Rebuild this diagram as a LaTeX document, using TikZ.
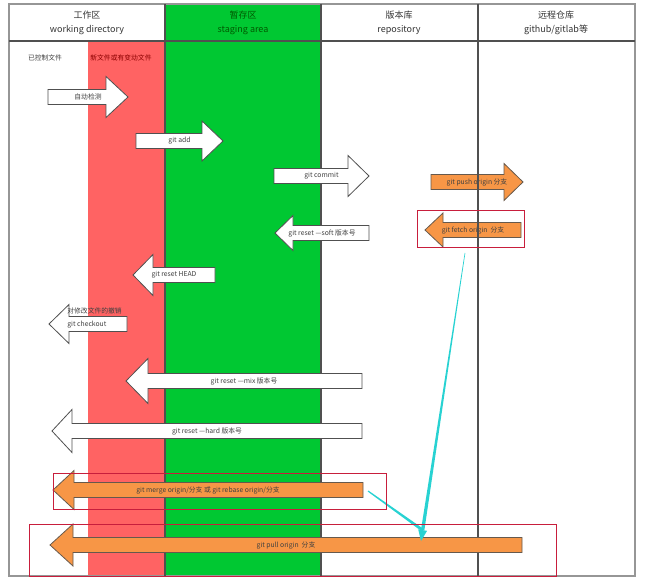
\documentclass[tikz,border=0pt]{standalone}
\usepackage{fontspec}
\setmainfont{Noto Sans CJK SC}
\usetikzlibrary{arrows.meta,calc,positioning}
\tikzset{every picture/.style={line width=0.75pt}}

\definecolor{workred}{RGB}{255,99,99}
\definecolor{stagegreen}{RGB}{0,200,50}
\definecolor{pushorange}{RGB}{247,150,70}
\definecolor{gridgray}{RGB}{80,80,80}
\definecolor{framegray}{RGB}{150,150,150}
\definecolor{boxred}{RGB}{200,30,60}
\definecolor{flowcyan}{RGB}{40,210,210}

\tikzset{
  arrowbox/.style={draw=gridgray, fill=white, line width=0.8pt, line join=miter},
  orangebox/.style={draw=gridgray!80!brown, fill=pushorange, line width=0.8pt},
  arrowlabel/.style={font=\fontsize{6.8}{8}\selectfont, text=black!75, inner sep=0pt},
  headtext/.style={font=\fontsize{9}{14}\selectfont, align=center, text=black!80},
  redbox/.style={draw=boxred, line width=0.6pt},
}

% 块状箭头: [样式]{名字}{尾x}{头根x}{尖x}{y}{头半高}{文字}
\newcommand{\blockarrow}[8][arrowbox]{%
  \draw[#1] (#3,#6-7.5) -- (#4,#6-7.5) -- (#4,#6-#7) -- (#5,#6) -- (#4,#6+#7)
    -- (#4,#6+7.5) -- (#3,#6+7.5) -- cycle;
  \node[arrowlabel] (#2) at ({(#3+#5)/2},#6) {#8};
}

\begin{document}
\begin{tikzpicture}[x=1pt, y=-1pt]
    \useasboundingbox (0,0) rectangle (649,583);

    % 背景色块
    \fill[workred] (88,41) rectangle (165,576);
    \fill[stagegreen] (165,4) rectangle (321,576);

    % 外框和分栏
    \draw[framegray, line width=1.6pt] (9,4) rectangle (635,576);
    \draw[gridgray, line width=1.2pt] (9,41) -- (635,41);
    \draw[gridgray, line width=1.2pt] (165,4) -- (165,576);
    \draw[gridgray, line width=1.2pt] (321,4) -- (321,576);

    % 表头
    \node[headtext] (workdir) at (87,23) {工作区\\working directory};
    \node[headtext, text=green!35!black] (stage) at (243,23) {暂存区\\staging area};
    \node[headtext] (repo) at (399,23) {版本库\\repository};
    \node[headtext] (remote) at (556,23) {远程仓库\\github/gitlab等};

    % 工作区说明
    \node[arrowlabel] (tracked) at (45,58) {已控制文件};
    \node[arrowlabel, text=red!55!black] (changed) at (121,58) {新文件或有变动文件};

    % 白色箭头
    \blockarrow{autodetect}{48}{106}{128}{97}{20.5}{自动检测}
    \blockarrow{gitadd}{136}{202}{223}{141}{20}{git add}
    \blockarrow{gitcommit}{274}{348}{369}{176}{20.5}{git commit}
    \blockarrow{resetsoft}{369}{293}{275}{233}{17.5}{git reset —soft 版本号}
    \blockarrow{resethead}{215}{153}{133}{275}{20.5}{git reset HEAD}
    \blockarrow{checkout}{127}{69}{49}{324}{19.5}{}
    \node[arrowlabel, anchor=north west, align=left, font=\fontsize{6.8}{13}\selectfont]
      (checkouttext) at (67,307) {对修改文件的撤销\\git checkout};
    \blockarrow{resetmix}{362}{148}{126}{381}{22.5}{git reset —mix 版本号}
    \blockarrow{resethard}{362}{72}{52}{431}{21.5}{git reset —hard 版本号}

    % 远程操作
    \blockarrow[orangebox]{gitpush}{431}{504}{523}{182}{18.5}{git push origin 分支}
    \blockarrow[orangebox]{gitfetch}{521}{443}{425}{230}{17}{git fetch origin~ 分支}

    \draw[gridgray, line width=1.2pt] (478,4) -- (478,576);

    \blockarrow[orangebox]{gitmerge}{363}{74}{53}{490}{19.5}{git merge origin/分支 或 git rebase origin/分支}
    \blockarrow[orangebox]{gitpull}{522}{73}{50}{545}{21}{git pull origin~ 分支}

    % 青色指向线
    \coordinate (fetchtail) at (465,253);
    \coordinate (mergetail) at (368,491);
    \coordinate (pulltip) at (421,541);
    \coordinate (headbase) at ($(pulltip)!11pt!(fetchtail)$);
    \fill[flowcyan] ($(fetchtail)!0.3pt!90:(pulltip)$) -- ($(headbase)!1.7pt!-90:(fetchtail)$)
      -- ($(headbase)!1.7pt!90:(fetchtail)$) -- ($(fetchtail)!0.3pt!-90:(pulltip)$) -- cycle;
    \fill[flowcyan] ($(mergetail)!0.6pt!90:(headbase)$) -- ($(headbase)!1.5pt!-90:(mergetail)$)
      -- ($(headbase)!1.5pt!90:(mergetail)$) -- ($(mergetail)!0.6pt!-90:(headbase)$) -- cycle;
    \fill[flowcyan] (pulltip) -- ($(headbase)!4.5pt!90:(pulltip)$) -- ($(headbase)!4.5pt!-90:(pulltip)$) -- cycle;

    % 红色标注框
    \draw[redbox] (417,210) rectangle (524,247);
    \draw[redbox] (53,473) rectangle (386,509);
    \draw[redbox] (29,524) rectangle (556,576);
\end{tikzpicture}
\end{document}
